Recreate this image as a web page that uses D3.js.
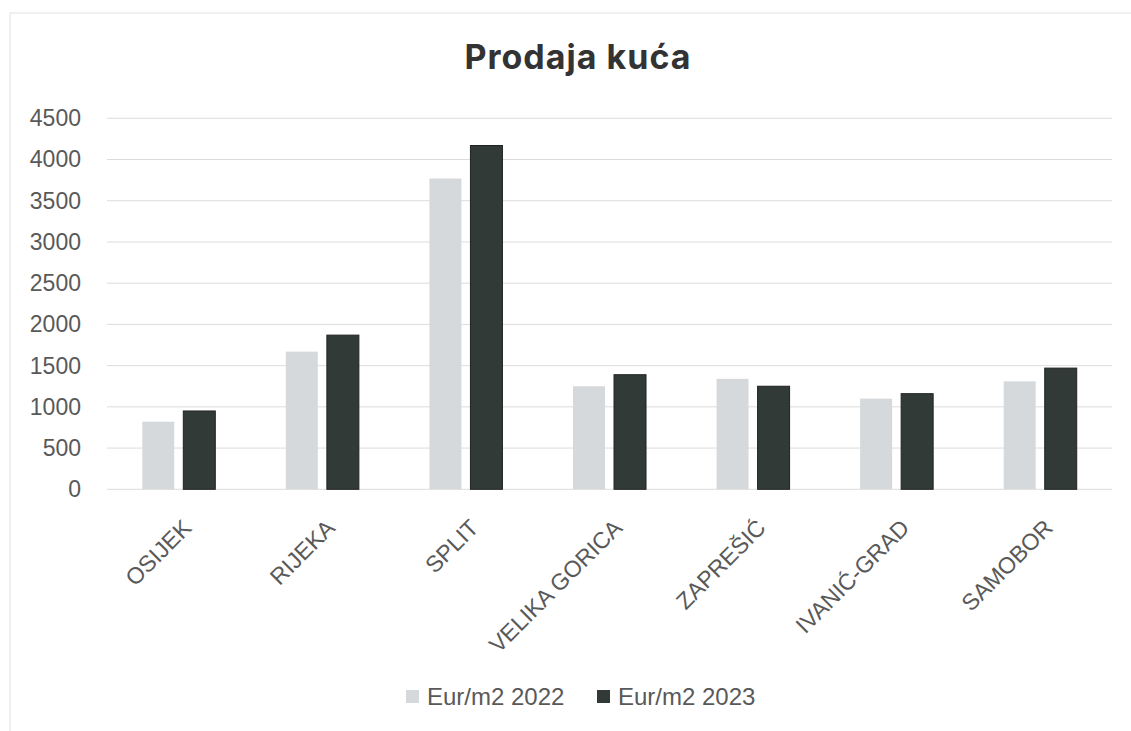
<!DOCTYPE html>
<html>
<head>
<meta charset="utf-8">
<script src="https://cdn.jsdelivr.net/npm/d3@7"></script>
<style>
  body { margin: 0; background: #fff; }
  svg { display: block; }
</style>
</head>
<body>
<div id="chart"></div>
<script>
// Prodaja kuca - grouped bars, Eur/m2 by city

const cities = ['OSIJEK', 'RIJEKA', 'SPLIT', 'VELIKA GORICA', 'ZAPREŠIĆ', 'IVANIĆ-GRAD', 'SAMOBOR'];
const seriesNames = ['Eur/m2 2022', 'Eur/m2 2023'];
const values2022 = [820, 1670, 3770, 1250, 1340, 1100, 1310];
const values2023 = [950, 1870, 4170, 1390, 1250, 1160, 1470];
const yTicks = [0, 500, 1000, 1500, 2000, 2500, 3000, 3500, 4000, 4500];

const colors = ['#d6d9db', '#323a37'];

const width = 1131;
const height = 731;
const margin = { top: 118.3, right: 19, bottom: 241.7, left: 107 };

const svg = d3.select('#chart')
    .append('svg')
    .attr('width', width)
    .attr('height', height);

// chart frame (runs off the page on the right/bottom)
svg.append('rect')
    .attr('x', 10)
    .attr('y', 13)
    .attr('width', 1200)
    .attr('height', 800)
    .attr('fill', 'none')
    .attr('stroke', '#e2e2e2')
    .attr('stroke-width', 1);

// Title
svg.append('text')
    .attr('x', 578)
    .attr('y', 69)
    .attr('text-anchor', 'middle')
    .style('font-family', 'Inter, "Liberation Sans", sans-serif')
    .style('font-size', '34px')
    .style('font-weight', 'bold')
    .style('letter-spacing', '1px')
    .style('fill', '#333')
    .text('Prodaja kuća');

const x0 = d3.scaleBand()
    .domain(cities)
    .range([margin.left, width - margin.right])
    .padding(0);

const x1 = d3.scaleBand()
    .domain(seriesNames)
    .range([0, x0.bandwidth()])
    .paddingInner(0.22)
    .paddingOuter(0.86);

const y = d3.scaleLinear()
    .domain([0, 4500])
    .range([height - margin.bottom, margin.top]);

// gridlines
svg.append('g')
    .selectAll('line')
    .data(yTicks)
    .enter()
    .append('line')
    .attr('x1', margin.left)
    .attr('x2', width - margin.right)
    .attr('y1', d => y(d))
    .attr('y2', d => y(d))
    .style('stroke', '#dcdcdc')
    .style('stroke-width', 1);

// y axis labels
const yAxis = svg.append('g')
    .attr('transform', `translate(${margin.left},0)`)
    .call(d3.axisLeft(y).tickValues(yTicks).tickFormat(d3.format('d')).tickSize(0).tickPadding(26));
yAxis.select('.domain').remove();
yAxis.selectAll('text')
    .style('font-family', '"Liberation Sans", Arial, sans-serif')
    .style('font-size', '23px')
    .style('fill', '#595959');

// bars
const rows = cities.map((c, i) => ({ city: c, vals: [values2022[i], values2023[i]] }));

const groups = svg.selectAll('.city')
    .data(rows)
    .enter()
    .append('g')
    .attr('class', 'city')
    .attr('transform', d => `translate(${x0(d.city)},0)`);

groups.selectAll('rect')
    .data(d => d.vals.map((v, j) => ({ series: seriesNames[j], value: v, j: j })))
    .enter()
    .append('rect')
    .attr('x', d => x1(d.series))
    .attr('y', d => y(d.value))
    .attr('width', x1.bandwidth())
    .attr('height', d => y(0) - y(d.value))
    .attr('fill', d => colors[d.j])
    .attr('stroke', d => d.j === 1 ? '#1f2422' : 'none')
    .attr('stroke-width', 1);

// x axis labels, rotated
const xAxis = svg.append('g')
    .attr('transform', `translate(0,${y(0)})`)
    .call(d3.axisBottom(x0).tickSize(0).tickPadding(0));
xAxis.select('.domain').remove();
xAxis.selectAll('text')
    .attr('text-anchor', 'end')
    .attr('dy', 0)
    .attr('transform', 'translate(14,40) rotate(-45)')
    .style('font-family', '"Liberation Sans", Arial, sans-serif')
    .style('font-size', '23px')
    .style('fill', '#595959');

// legend
const legend = svg.append('g')
    .attr('transform', 'translate(406, 690)');

const legendX = [0, 191];
seriesNames.forEach((name, i) => {
    legend.append('rect')
        .attr('x', legendX[i])
        .attr('y', 0)
        .attr('width', 13)
        .attr('height', 13)
        .attr('fill', colors[i]);

    legend.append('text')
        .attr('x', legendX[i] + 21)
        .attr('y', 15)
        .style('font-family', '"Liberation Sans", Arial, sans-serif')
        .style('font-size', '24px')
        .style('fill', '#595959')
        .text(name);
});
</script>
</body>
</html>
